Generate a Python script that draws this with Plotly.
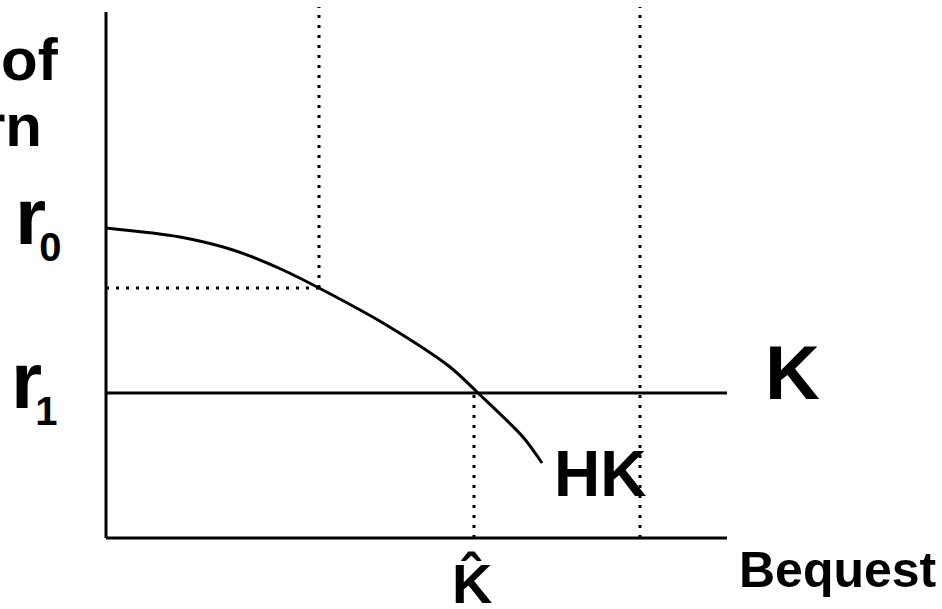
import plotly.graph_objects as go

# ---- data (diagram units) ----
curve_x = [0.0, 0.74, 1.27, 1.77, 2.13, 2.77, 3.44, 3.72, 4.17, 4.36]
curve_y = [3.10, 3.01, 2.88, 2.68, 2.50, 2.15, 1.71, 1.45, 1.01, 0.75]

r0 = 3.10
r1 = 1.45
r_mid = 2.50
x_mid = 2.13
k_hat = 3.68
x_right = 5.34
x_end = 6.21
y_top = 5.26
y_dot_top = 5.31

FONT = "Liberation Sans, Arial, sans-serif"
NARROW = "Liberation Sans Narrow, Liberation Sans, Arial, sans-serif"
BLACK = "#000000"

fig = go.Figure()

def line(xs, ys, width=3, dash="solid"):
    fig.add_trace(go.Scatter(x=xs, y=ys, mode="lines",
                             line=dict(color=BLACK, width=width, dash=dash),
                             hoverinfo="skip", showlegend=False))

# axes
line([0, 0], [0, y_top])
line([0, x_end], [0, 0])
# K line
line([0, x_end], [r1, r1])
# HK curve
fig.add_trace(go.Scatter(x=curve_x, y=curve_y, mode="lines",
                         line=dict(color=BLACK, width=3, shape="spline", smoothing=0.8),
                         hoverinfo="skip", showlegend=False))
# dotted guides
DOT = "3px,7px"
line([x_mid, x_mid], [r_mid, y_dot_top], width=3, dash=DOT)
line([0, x_mid], [r_mid, r_mid], width=3, dash=DOT)
line([k_hat, k_hat], [0, r1], width=3, dash=DOT)
line([x_right, x_right], [0, y_dot_top], width=3, dash=DOT)

def label(text, x, y, size, xanchor="center", family=FONT):
    fig.add_annotation(x=x, y=y, text=text, showarrow=False, xref="x", yref="y",
                       xanchor=xanchor, yanchor="middle",
                       font=dict(family=family, size=size, color=BLACK, weight="bold"))

R = "<span style='letter-spacing:-7px'>r</span>"
SUB = "<sub><span style='font-size:40px;font-family:Liberation Sans, Arial, sans-serif'>{}</span></sub>"

label("of", -0.45, 4.785, 60, xanchor="right")
label("rn", -0.62, 4.125, 60, xanchor="right")
label(R + SUB.format("0"), -0.93, 3.18, 80, xanchor="left", family=NARROW)
label(R + SUB.format("1"), -0.97, 1.54, 80, xanchor="left", family=NARROW)
label("K", 6.86, 1.66, 76)
label("HK", 4.94, 0.64, 64)
label("K\u0302", 3.66, -0.45, 56)
label("Bequest", 7.32, -0.32, 50)

fig.update_layout(
    width=942, height=609,
    margin=dict(l=0, r=0, t=0, b=0),
    paper_bgcolor="white", plot_bgcolor="white",
    xaxis=dict(range=[-1.06, 8.36], visible=False, fixedrange=True),
    yaxis=dict(range=[-0.71, 5.38], visible=False, fixedrange=True),
    showlegend=False,
)

fig.write_html("out.html", config={"displayModeBar": False},
               post_script="document.body.style.margin='0';document.body.style.overflow='hidden';")
